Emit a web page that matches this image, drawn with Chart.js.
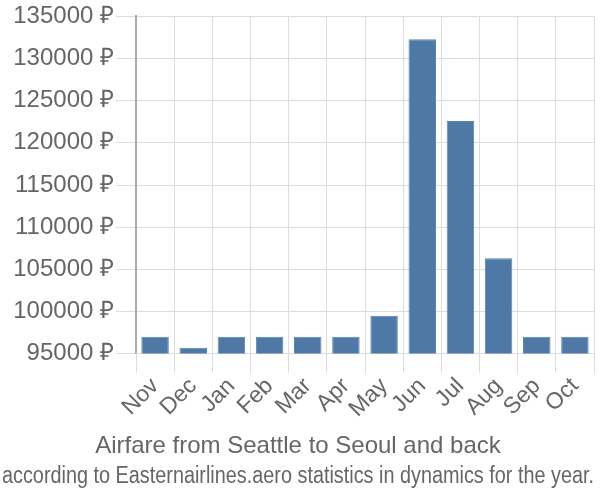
<!DOCTYPE html>
<html>
<head>
<meta charset="utf-8">
<script src="https://cdn.jsdelivr.net/npm/chart.js@4.4.3/dist/chart.umd.min.js"></script>
<style>
  html, body { margin: 0; padding: 0; background: #fff; }
  #wrap { width: 600px; height: 500px; }
</style>
</head>
<body>
<div id="wrap"><canvas id="chart" width="600" height="500"></canvas></div>
<script>
const months = ["Nov", "Dec", "Jan", "Feb", "Mar", "Apr", "May", "Jun", "Jul", "Aug", "Sep", "Oct"];
const prices = [97000, 95700, 97000, 97000, 97000, 97000, 99500, 132300, 122600, 106300, 97000, 97000];
const yMin = 95000;
const yMax = 135000;
const yStep = 5000;
const titleText = "Airfare from Seattle to Seoul and back";
const subtitleText = "according to Easternairlines.aero statistics in dynamics for the year.";

const textColor = "#666666";
const fontFamily = "'Liberation Sans', Arial, sans-serif";

new Chart(document.getElementById("chart"), {
  type: "bar",
  data: {
    labels: months,
    datasets: [
      {
        data: prices,
        backgroundColor: "#4e79a7",
        borderColor: "#5a84b0",
        borderWidth: 1,
        barPercentage: 0.72,
        categoryPercentage: 1,
      },
    ],
  },
  options: {
    responsive: false,
    animation: false,
    layout: { padding: { left: 2, right: 6, top: 0, bottom: 0 } },
    scales: {
      y: {
        min: yMin,
        max: yMax,
        afterFit: (scale) => {
          scale.width = 134;
        },
        ticks: {
          stepSize: yStep,
          color: textColor,
          font: { family: fontFamily, size: 24 },
          padding: 2,
          callback: (value) => `${value} ₽`,
        },
        grid: { color: "#dddddd", lineWidth: 1, tickLength: 20 },
        border: { color: "#aaaaaa", width: 2 },
      },
      x: {
        afterFit: (scale) => {
          scale.height = 68;
        },
        ticks: {
          color: textColor,
          font: { family: fontFamily, size: 23 },
          minRotation: 45,
          maxRotation: 45,
          autoSkip: false,
          padding: 0,
        },
        grid: { color: "#dddddd", lineWidth: 1, tickLength: 19, offset: true },
        border: { color: "#dddddd" },
      },
    },
    plugins: {
      legend: { display: false },
      tooltip: { enabled: false },
      title: {
        display: true,
        text: titleText,
        position: "bottom",
        weight: 1000,
        color: textColor,
        font: { family: fontFamily, size: 24, weight: "normal" },
        padding: { top: 10, bottom: 2 },
      },
      subtitle: {
        display: true,
        text: subtitleText,
        position: "bottom",
        color: textColor,
        font: { family: fontFamily, size: 23, weight: "normal" },
        padding: { top: 0, bottom: 10 },
      },
    },
  },
});
</script>
</body>
</html>
